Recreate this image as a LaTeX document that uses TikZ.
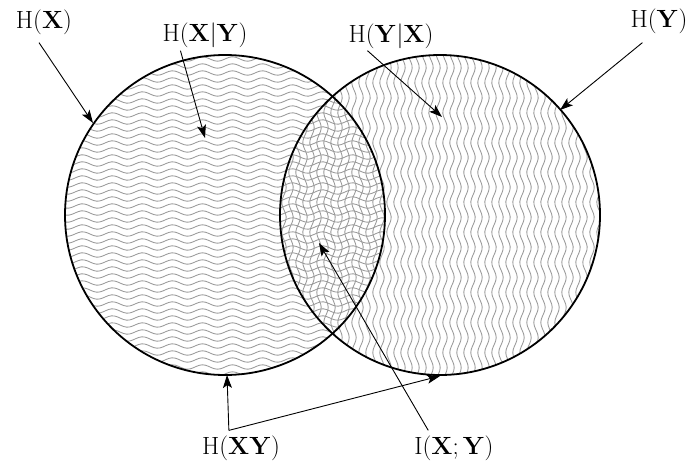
\documentclass[tikz,border=0pt]{standalone}
\usetikzlibrary{arrows.meta,calc}
\begin{document}
\begin{tikzpicture}[x=1pt,y=-1pt,
  wave/.style={line width=0.85pt,black!40},
  rim/.style={line width=1.8pt,black},
  pointer/.style={line width=0.9pt,-{Stealth[length=13pt,width=9pt,inset=3pt]}},
  lab/.style={inner sep=0pt,font=\Huge}]
\useasboundingbox[fill=white] (0,0) rectangle (691,466);
% hatching of H(X): horizontal waves
\begin{scope}
  \clip (225,215) circle[radius=160pt];
  \foreach \yy in {52,59,...,382}
    \draw[wave] plot[domain=60:390,samples=110,smooth] (\x,{\yy+2.2*sin(12*\x)});
\end{scope}
% hatching of H(Y): vertical waves
\begin{scope}
  \clip (440,215) circle[radius=160pt];
  \foreach \xx in {277,284,...,606}
    \draw[wave] plot[domain=50:380,samples=110,smooth] ({\xx+2.2*sin(12*\x)},\x);
\end{scope}
% circle outlines
\node[circle,minimum size=320pt,inner sep=0pt,draw,rim] (cx) at (225,215) {};
\node[circle,minimum size=320pt,inner sep=0pt,draw,rim] (cy) at (440,215) {};
% labels
\node[lab] (hx)  at (44,22)  {$\mathrm{H}(\mathbf{X})$};
\node[lab] (hxy) at (205,35) {$\mathrm{H}(\mathbf{X}|\mathbf{Y})$};
\node[lab] (hyx) at (391,36) {$\mathrm{H}(\mathbf{Y}|\mathbf{X})$};
\node[lab] (hy)  at (659,21) {$\mathrm{H}(\mathbf{Y})$};
\node[lab] (hj)  at (241,448) {$\mathrm{H}(\mathbf{X}\mathbf{Y})$};
\node[lab] (ixy) at (454,448) {$\mathrm{I}(\mathbf{X};\mathbf{Y})$};
% arrow tips
\coordinate (tHX)  at (93,123);
\coordinate (tHXY) at (205,138);
\coordinate (tHYX) at (442,117);
\coordinate (tHY)  at (560,110);
\coordinate (tJ1)  at (227,375);
\coordinate (tJ2)  at (440,376);
\coordinate (tI)   at (319,243);
\coordinate (jc)   at ($(hj.north west)+(27,-5)$);
% arrows
\draw[pointer] ($(hx.south)+(-5,8)$) -- (tHX);
\draw[pointer] ($(hxy.south west)+(18,3)$) -- (tHXY);
\draw[pointer] ($(hyx.south west)+(19,2)$) -- (tHYX);
\draw[pointer] ($(hy.south west)+(12,9)$) -- (tHY);
\draw[pointer] (jc) -- (tJ1);
\draw[pointer] (jc) -- (tJ2);
\draw[pointer] ($(ixy.north west)+(14,-5)$) -- (tI);
\end{tikzpicture}
\end{document}
